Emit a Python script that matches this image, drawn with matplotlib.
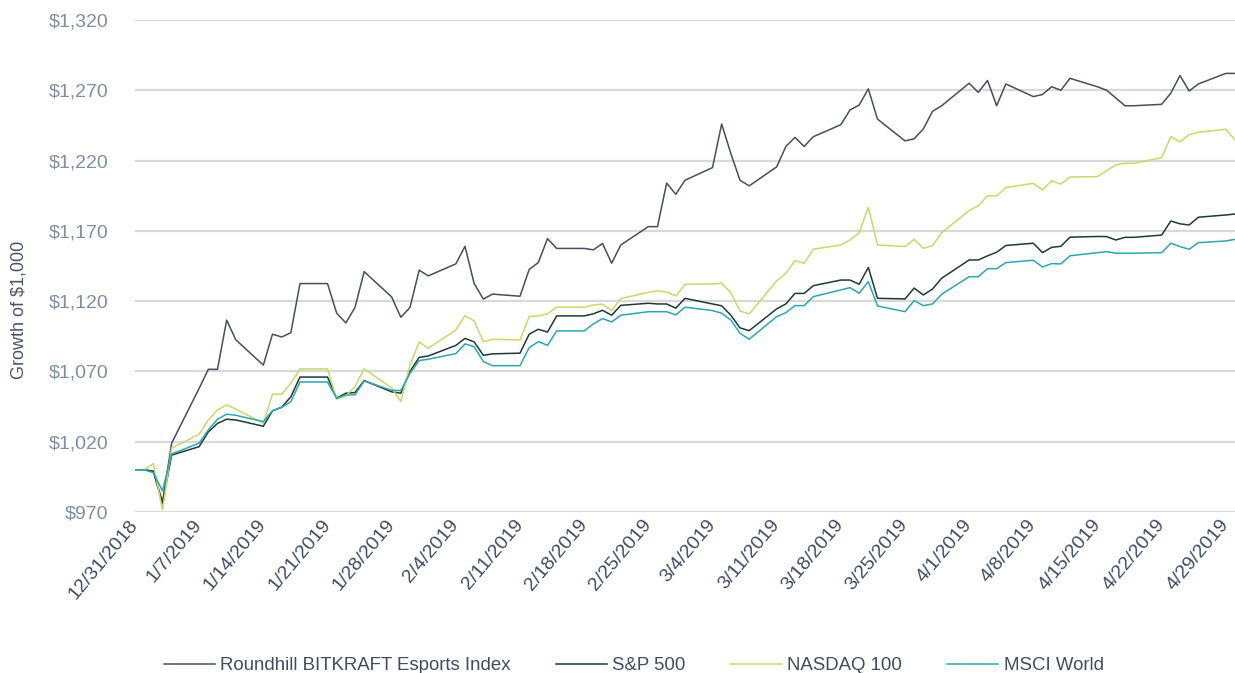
import numpy as np
import pandas as pd
import matplotlib
matplotlib.use("Agg")
import matplotlib.pyplot as plt

plt.rcParams['font.family'] = ['Liberation Sans', 'DejaVu Sans']

# trading days, holidays held at the previous close
dates = pd.bdate_range('2018-12-31', '2019-04-30')

roundhill = [
    1000, 1000, 999, 977, 1019,
    1058, 1071.5, 1071.5, 1106.5, 1092.5,
    1074.5, 1096.5, 1094.5, 1097.5, 1132.5,
    1132.5, 1111.5, 1104.5, 1115.5, 1141,
    1123, 1108.5, 1115.5, 1142, 1138,
    1146.5, 1159, 1132.5, 1121.5, 1125,
    1123.5, 1142.5, 1147.5, 1164.5, 1157.5,
    1157.5, 1156.5, 1161, 1147, 1160,
    1173, 1173, 1204, 1196, 1206,
    1215, 1246, 1225, 1206, 1202,
    1215.5, 1230, 1236.5, 1230, 1237,
    1245.5, 1256, 1259.5, 1271, 1249.5,
    1234, 1235.5, 1242.5, 1255, 1259,
    1275, 1268.5, 1277, 1259, 1274.5,
    1265.5, 1267, 1272.5, 1270, 1278.5,
    1272.5, 1270, 1264.5, 1259, 1259,
    1260, 1268, 1280.5, 1269.5, 1274.5,
    1282, 1282,
]

sp500 = [
    1000, 1000, 999, 976, 1010.5,
    1016.5, 1027, 1033, 1036, 1035.5,
    1031, 1042, 1044.5, 1052, 1066,
    1066, 1051, 1054.5, 1055, 1063.5,
    1055.5, 1054.5, 1070, 1080, 1081,
    1088.5, 1093.5, 1091, 1081.5, 1082.5,
    1083, 1096.5, 1100, 1098, 1109.5,
    1109.5, 1111, 1113.5, 1110, 1117,
    1118.5, 1118, 1118, 1115, 1122,
    1118, 1116.7, 1110, 1101, 1099,
    1114.5, 1118, 1125.5, 1125.5, 1131,
    1135, 1135, 1132, 1144, 1122,
    1121.6, 1129.3, 1124.4, 1128.6, 1136.3,
    1149.3, 1149.3, 1152.2, 1154.8, 1159.6,
    1161.2, 1154.5, 1158.3, 1159, 1165.5,
    1166, 1165.9, 1163.5, 1165.4, 1165.4,
    1167, 1177, 1175, 1174.2, 1179.7,
    1181.3, 1182,
]

nasdaq100 = [
    1000, 1000, 1004.5, 971.5, 1015.5,
    1025.3, 1035.5, 1042.6, 1046.2, 1043.3,
    1033.1, 1053.8, 1053.8, 1061.6, 1071.8,
    1071.8, 1050.2, 1052.6, 1059.2, 1071.8,
    1058.3, 1048.5, 1074.6, 1091, 1086.5,
    1099.5, 1109.7, 1105.9, 1091.2, 1092.9,
    1092.4, 1109, 1109.5, 1110.9, 1115.7,
    1115.7, 1117.3, 1117.8, 1113.3, 1121.8,
    1126.3, 1127.3, 1126.5, 1123.7, 1132,
    1132.2, 1132.7, 1126, 1113, 1110.9,
    1134.4, 1139.8, 1148.8, 1147, 1156.9,
    1160, 1163.5, 1168.7, 1186.8, 1160,
    1158.8, 1164, 1157.6, 1159.5, 1168.7,
    1184.4, 1187.9, 1195, 1194.8, 1200.8,
    1203.8, 1199.1, 1205.7, 1203.3, 1208.3,
    1208.6, 1212.9, 1216.9, 1218.1, 1218.1,
    1222.1, 1237, 1233.4, 1238.4, 1240.1,
    1242.3, 1234.7,
]

msci_world = [
    1000, 1000, 998, 985, 1011.3,
    1019, 1028.4, 1036, 1039.6, 1038.8,
    1034.3, 1042.1, 1044.5, 1048.5, 1062.5,
    1062.5, 1050.9, 1053.3, 1053.3, 1063.2,
    1056.6, 1056.4, 1068.7, 1077.7, 1078.7,
    1082.7, 1089.6, 1087.6, 1077, 1074.1,
    1074.1, 1086.9, 1091.2, 1088.6, 1098.8,
    1098.8, 1103.8, 1107.6, 1105.2, 1110,
    1112.5, 1112.5, 1112.5, 1110.2, 1115.7,
    1113.3, 1111.4, 1106.6, 1097.1, 1092.9,
    1109, 1111.8, 1116.8, 1116.8, 1123.2,
    1128, 1129.6, 1125.6, 1133.9, 1116.6,
    1112.5, 1120.4, 1116.8, 1118, 1124.9,
    1137.4, 1137.4, 1143.1, 1143.1, 1147.4,
    1149.1, 1144.3, 1146.7, 1146.5, 1152.3,
    1154.5, 1155.2, 1154.1, 1154.1, 1154.1,
    1154.5, 1161.2, 1158.8, 1156.9, 1161.6,
    1162.8, 1164,
]

series = [
    ("Roundhill BITKRAFT Esports Index", roundhill, "#454f60"),
    ("S&P 500", sp500, "#1d3b33"),
    ("NASDAQ 100", nasdaq100, "#c9d86b"),
    ("MSCI World", msci_world, "#2ba7b2"),
]

fig = plt.figure(figsize=(12.35, 6.73), dpi=100)
ax = fig.add_axes([0.1093, 0.2392, 0.8907, 0.7311])

for name, vals, col in series:
    ax.plot(dates, vals, color=col, linewidth=1.1, label=name)

ax.set_xlim(pd.Timestamp('2018-12-31'), pd.Timestamp('2019-04-30'))
ax.set_ylim(970, 1320)
yt = np.arange(970, 1321, 50)
ax.set_yticks(yt)
ax.set_yticklabels(["${:,.0f}".format(v) for v in yt])

weeks = pd.date_range('2018-12-31', '2019-04-29', freq='7D')
ax.set_xticks(weeks)
ax.set_xticklabels([f"{d.month}/{d.day}/{d.year}" for d in weeks],
                   rotation=50, ha='right', va='center', rotation_mode='anchor')

ax.grid(axis='y', color='#d9d9d9', linewidth=1.6)
ax.set_axisbelow(True)
for s in ax.spines.values():
    s.set_visible(False)
ax.tick_params(axis='both', length=0)
ax.tick_params(axis='y', pad=19, labelsize=14, labelcolor='#7f8ea3')
ax.tick_params(axis='x', pad=7, labelsize=14, labelcolor='#3f4d62')

ax.set_ylabel("Growth of $1,000", fontsize=13, color='#4a5568')
ax.yaxis.set_label_coords(-0.0975, 0.41)

fig.legend(loc='center', bbox_to_anchor=(0.513, 0.0105), ncol=4, frameon=False,
           fontsize=13.4, handlelength=2.75, columnspacing=2.4, handletextpad=0.3,
           labelcolor='#3f4d62')

fig.savefig("out.png", dpi=100)
